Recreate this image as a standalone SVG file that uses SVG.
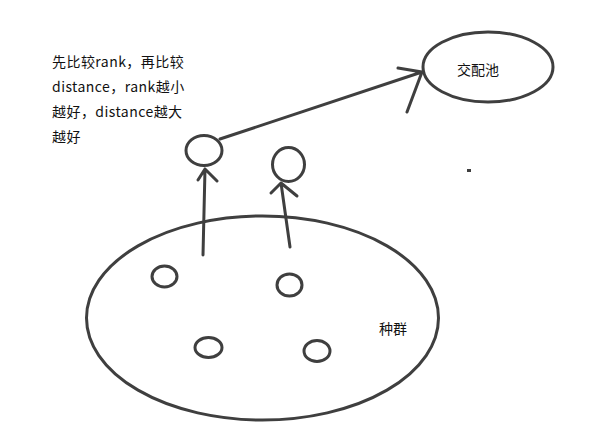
<svg xmlns="http://www.w3.org/2000/svg" width="600" height="446" viewBox="0 0 600 446">
<style>
.s{fill:none;stroke:#3f3f3f;stroke-width:3;stroke-linecap:round;stroke-linejoin:round}
.t{font-family:"Microsoft YaHei","Noto Sans CJK SC",sans-serif;font-size:14px;fill:#111}
.n{letter-spacing:0.45px}
</style>
<rect width="600" height="446" fill="#fff"/>
<g id="pool">
<ellipse class="s" cx="488" cy="67" rx="65" ry="35"/>
<text class="t" x="478" y="75" text-anchor="middle">交配池</text>
</g>
<g id="population">
<ellipse class="s" cx="262.5" cy="318" rx="176" ry="102"/>
<text class="t" x="393" y="334" text-anchor="middle" font-size="13">种群</text>
</g>
<g id="ind1"><ellipse class="s" cx="164.5" cy="276.5" rx="12.5" ry="10.5"/></g>
<g id="ind2"><ellipse class="s" cx="289.5" cy="285" rx="12.5" ry="11"/></g>
<g id="ind3"><ellipse class="s" cx="208.5" cy="347.5" rx="13.5" ry="10"/></g>
<g id="ind4"><ellipse class="s" cx="317" cy="351" rx="13" ry="10.5"/></g>
<g id="sel1"><ellipse class="s" cx="204" cy="150.5" rx="18" ry="15"/></g>
<g id="sel2"><ellipse class="s" cx="288.5" cy="164.5" rx="16" ry="17"/></g>
<g id="note">
<text class="t n" x="52" y="67">先比较rank，再比较</text>
<text class="t n" x="52" y="92">distance，rank越小</text>
<text class="t n" x="52" y="117">越好，distance越大</text>
<text class="t n" x="52" y="142">越好</text>
</g>
<g id="connectors">
<path class="s" d="M203 255 L205 169 M198 180 L205 169 L217 181"/>
<path class="s" d="M290 247 L281 183 M271 193 L281 183 L297 196"/>
<path class="s" d="M220 139 L422 72 M398 68 L422 72 L407 112"/>
</g>
<rect x="467" y="169" width="4" height="3" fill="#3f3f3f"/>
</svg>
